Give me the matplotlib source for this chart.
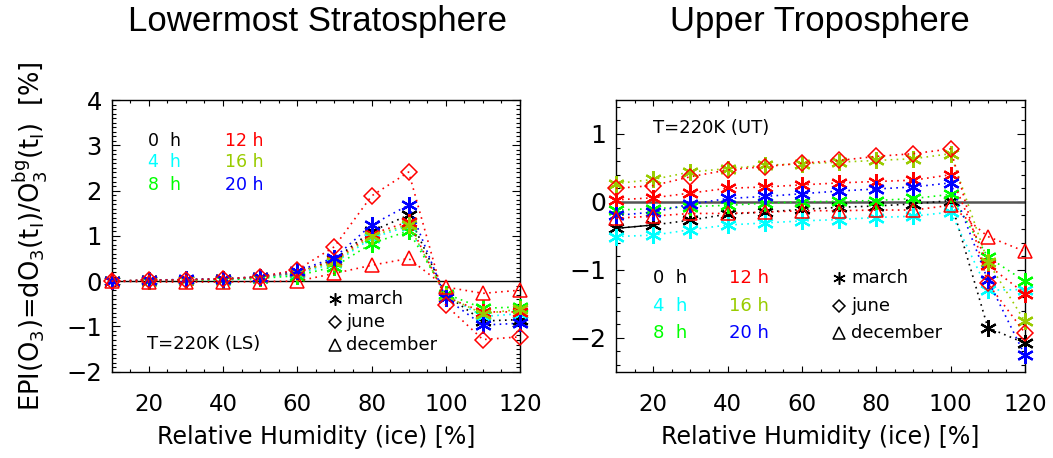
import matplotlib
matplotlib.use("Agg")
import matplotlib.pyplot as plt
from matplotlib.ticker import MultipleLocator

plt.rcParams['font.family'] = ['DejaVu Sans']
plt.rcParams['mathtext.fontset'] = 'dejavusans'

rh = [10, 20, 30, 40, 50, 60, 70, 80, 90, 100, 110, 120]

hours = ['0  h', '4  h', '8  h', '12 h', '16 h', '20 h']
hour_colors = ['#000000', '#00FFFF', '#00FF00', '#FF0000', '#99CC00', '#0000FF']

# Lowermost stratosphere, march, one series per hour
ls_march = [
    [0.0, 0.02, 0.03, 0.04, 0.08, 0.18, 0.48, 1.10, 1.46, -0.30, -0.88, -0.85],
    [0.0, 0.01, 0.02, 0.03, 0.07, 0.15, 0.40, 0.95, 1.22, -0.30, -0.78, -0.72],
    [0.0, 0.01, 0.02, 0.03, 0.06, 0.12, 0.32, 0.83, 1.11, -0.28, -0.60, -0.57],
    [0.0, 0.02, 0.03, 0.05, 0.09, 0.20, 0.45, 1.04, 1.31, -0.35, -0.68, -0.68],
    [0.0, 0.02, 0.03, 0.05, 0.09, 0.20, 0.42, 1.00, 1.25, -0.33, -0.72, -0.62],
    [0.0, 0.02, 0.04, 0.05, 0.10, 0.22, 0.52, 1.24, 1.68, -0.38, -0.97, -0.93],
]
ls_june_12h = [0.0, 0.02, 0.03, 0.05, 0.10, 0.25, 0.76, 1.88, 2.41, -0.53, -1.29, -1.23]
ls_dec_12h = [0.0, -0.02, -0.02, -0.02, -0.01, 0.0, 0.17, 0.35, 0.50, -0.13, -0.27, -0.20]

# Upper troposphere, march, one series per hour
ut_march = [
    [-0.39, -0.34, -0.27, -0.18, -0.15, -0.11, -0.08, -0.06, -0.03, 0.02, -1.85, -2.08],
    [-0.51, -0.49, -0.41, -0.34, -0.31, -0.28, -0.26, -0.23, -0.21, -0.15, -1.30, -1.29],
    [-0.12, -0.10, -0.07, -0.05, -0.02, 0.00, 0.01, 0.02, 0.05, 0.11, -0.81, -1.17],
    [0.03, 0.06, 0.13, 0.20, 0.22, 0.25, 0.28, 0.30, 0.32, 0.40, -0.93, -1.35],
    [0.27, 0.33, 0.44, 0.49, 0.54, 0.56, 0.585, 0.61, 0.635, 0.71, -0.88, -1.76],
    [-0.20, -0.15, -0.035, 0.05, 0.08, 0.12, 0.16, 0.19, 0.22, 0.28, -1.15, -2.26],
]
ut_june_12h = [0.20, 0.24, 0.37, 0.47, 0.52, 0.57, 0.61, 0.67, 0.71, 0.78, -1.20, -1.93]
ut_dec_12h = [-0.24, -0.21, -0.17, -0.17, -0.15, -0.13, -0.13, -0.12, -0.12, -0.05, -0.51, -0.73]

months = ['march', 'june', 'december']

W, H = 1053, 458
fig = plt.figure(figsize=(W / 100, H / 100), dpi=100)

ast = (6, 2, 0)
dots = (0, (1, 2.6))


def frame(ax, ylim, ymajor, yminor, ylabsize):
    ax.set_xlim(10, 120)
    ax.set_ylim(*ylim)
    ax.xaxis.set_major_locator(MultipleLocator(20))
    ax.xaxis.set_minor_locator(MultipleLocator(5))
    ax.yaxis.set_major_locator(MultipleLocator(ymajor))
    ax.yaxis.set_minor_locator(MultipleLocator(yminor))
    ax.tick_params(axis='both', which='both', direction='in', top=True, right=True, width=0.8)
    ax.tick_params(axis='x', which='major', length=4, labelsize=16.5, pad=15)
    ax.tick_params(axis='x', which='minor', length=2)
    ax.tick_params(axis='y', which='major', length=6, labelsize=ylabsize, pad=7)
    ax.tick_params(axis='y', which='minor', length=3)
    for s in ax.spines.values():
        s.set_linewidth(1.0)
    ax.set_xlabel('Relative Humidity (ice) [%]', fontsize=17, labelpad=7)


def draw(ax, march, june, dec):
    for vals, c in zip(march, hour_colors):
        ax.plot(rh, vals, linestyle=dots, color=c, lw=1.2, marker=ast,
                ms=12, mew=1.6, mfc=c, mec=c, clip_on=False, zorder=3)
    ax.plot(rh, june, linestyle=dots, color='#FF0000', lw=1.2, marker='D', ms=8,
            mfc='none', mec='#FF0000', mew=1.1, clip_on=False, zorder=3)
    ax.plot(rh, dec, linestyle=dots, color='#FF0000', lw=1.2, marker='^', ms=10,
            mfc='none', mec='#FF0000', mew=1.1, clip_on=False, zorder=3)


def legends(ax, hx, hx2, hy, mx, tx, my, fs_h):
    for i, (lab, c) in enumerate(zip(hours, hour_colors)):
        col = i // 3
        row = i % 3
        ax.text(hx if col == 0 else hx2, hy[row], lab, color=c, fontsize=fs_h,
                transform=ax.transAxes, va='center', ha='left')
    for (m, ms, lab), y in zip([(ast, 9, months[0]), ('D', 6, months[1]), ('^', 8, months[2])], my):
        ax.plot([mx], [y], marker=m, ms=ms, color='k', mfc='none' if m != ast else 'k',
                mec='k', mew=1.1, transform=ax.transAxes, clip_on=False, linestyle='none')
        ax.text(tx, y, lab, color='k', fontsize=13, transform=ax.transAxes,
                va='center', ha='left')


# Left panel
axL = fig.add_axes([111.7 / W, (H - 371.7) / H, 408.3 / W, 271.7 / H])
frame(axL, (-2, 4), 1, 0.1, 17.5)
axL.axhline(0, color='k', lw=1.0, zorder=2)
draw(axL, ls_march, ls_june_12h, ls_dec_12h)
legends(axL, 0.089, 0.2775, [0.850, 0.771, 0.687], 0.547, 0.575,
        [0.268, 0.184, 0.098], 12.5)
axL.text(0.0857, 0.102, 'T=220K (LS)', fontsize=13, transform=axL.transAxes,
         va='center', ha='left')
axL.set_ylabel(r'EPI(O$_3$)=dO$_3$(t$_\mathregular{I}$)/O$_3^\mathregular{bg}$(t$_\mathregular{I}$)  [%]',
               fontsize=18.5, labelpad=12)

# Right panel
axR = fig.add_axes([616 / W, (H - 371.7) / H, 409 / W, 271.7 / H])
frame(axR, (-2.5, 1.5), 1, 0.2, 18)
axR.axhline(0, color='#555555', lw=1.8, zorder=2)
draw(axR, ut_march, ut_june_12h, ut_dec_12h)
# solid first segment on the 0 h series
axR.plot(rh[:2], ut_march[0][:2], color='k', lw=1.0, linestyle='-', zorder=3, clip_on=False)
legends(axR, 0.0905, 0.276, [0.344, 0.243, 0.1435], 0.545, 0.575,
        [0.344, 0.243, 0.1435], 13)
axR.text(0.0905, 0.896, 'T=220K (UT)', fontsize=13, transform=axR.transAxes,
         va='center', ha='left')

# Titles
fig.text(318 / W, 1 - 22 / H, 'Lowermost Stratosphere', family='Liberation Sans',
         fontsize=25, ha='center', va='center')
fig.text(820 / W, 1 - 22 / H, 'Upper Troposphere', family='Liberation Sans',
         fontsize=25, ha='center', va='center')

fig.savefig('out.png', dpi=100)
